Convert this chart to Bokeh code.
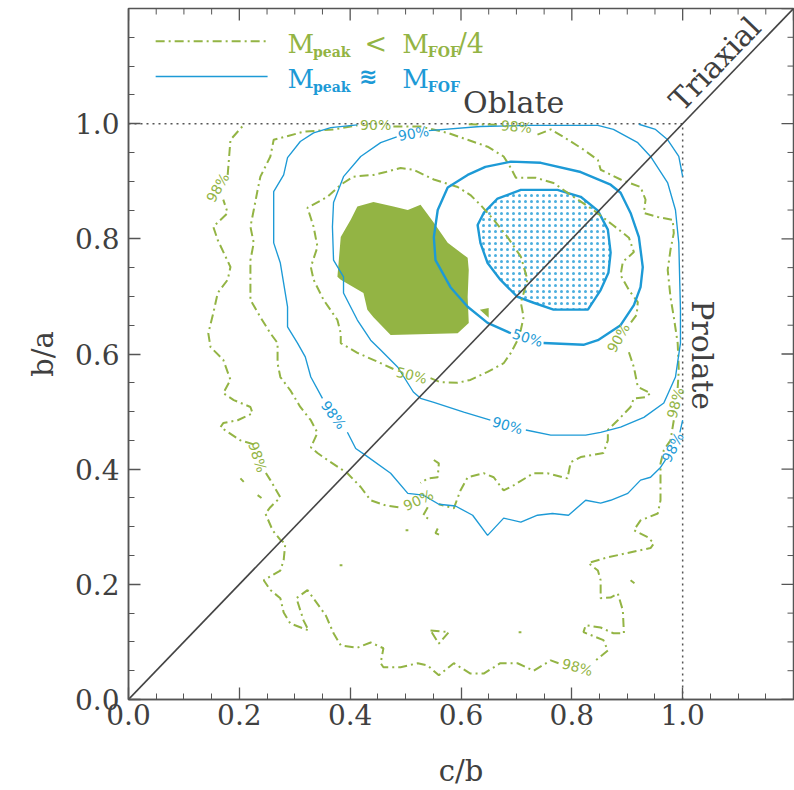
from bokeh.plotting import figure
from bokeh.models import FixedTicker, Label, ColumnDataSource
from bokeh.embed import file_html
from bokeh.resources import INLINE
from bokeh.core.properties import value

nan = float("nan")

GREEN = "#93b444"
BLUE = "#1d9ad6"
INK = "#404040"
AXC = "#555555"

# ---------------- data (c/b, b/a) ----------------
# reference lines
oblate_x = [0.0, 1.0]
oblate_y = [1.0, 1.0]
prolate_x = [1.0, 1.0]
prolate_y = [0.0, 1.0]
triax_x = [0.0, 1.2]
triax_y = [0.0, 1.2]

# blue: M_peak ~ M_FOF
b_inner_x = [0.630, 0.641, 0.666, 0.708, 0.774, 0.816, 0.847, 0.865, 0.870, 0.866, 0.852, 0.829, 0.767, 0.731, 0.702, 0.671, 0.648, 0.635]
b_inner_y = [0.824, 0.845, 0.870, 0.885, 0.885, 0.873, 0.849, 0.816, 0.776, 0.741, 0.711, 0.677, 0.677, 0.689, 0.699, 0.729, 0.758, 0.793]

b50_x = [0.749, 0.821, 0.847, 0.888, 0.912, 0.924, 0.928, 0.921, 0.906, 0.888, 0.870, 0.816, 0.744, 0.690, 0.644, 0.612, 0.576, 0.558, 0.551, 0.554, 0.581, 0.612, 0.648, 0.690]
b50_y = [0.619, 0.616, 0.624, 0.650, 0.685, 0.716, 0.751, 0.803, 0.845, 0.880, 0.894, 0.916, 0.932, 0.934, 0.925, 0.911, 0.889, 0.850, 0.803, 0.763, 0.716, 0.682, 0.654, 0.636]

b90_x = [0.542, 0.635, 0.726, 0.847, 0.875, 0.919, 0.942, 0.973, 0.987, 0.993, 0.996, 0.996, 0.987, 0.966, 0.930, 0.888, 0.852, 0.825, 0.762, 0.717, nan,
         0.653, 0.605, 0.551, 0.527, 0.514, 0.486, 0.455, 0.437, 0.413, 0.388, 0.388, 0.370, 0.368, 0.370, 0.388, 0.419, 0.455, 0.484]
b90_y = [0.988, 0.995, 0.997, 0.997, 0.990, 0.967, 0.943, 0.897, 0.850, 0.793, 0.677, 0.619, 0.560, 0.515, 0.490, 0.473, 0.464, 0.459, 0.459, 0.468, nan,
         0.485, 0.499, 0.516, 0.523, 0.534, 0.577, 0.607, 0.624, 0.659, 0.706, 0.734, 0.763, 0.821, 0.863, 0.908, 0.943, 0.967, 0.977]

b98_x = [0.350, 0.329, 0.319, 0.305, 0.287, 0.287, 0.274, 0.262, 0.262, 0.280, 0.287, 0.310, 0.334, 0.365, 0.413, nan,
         0.921, 0.951, 0.973, 0.993, 1.000, nan,
         1.000, 0.995, nan,
         0.969, 0.960, 0.942, 0.924, 0.901, 0.870, 0.852, 0.825, 0.794, 0.765, 0.738, 0.708, 0.677, 0.648, 0.621, 0.590, 0.560, 0.532, 0.504, 0.473, 0.428, 0.410, 0.395]
b98_y = [0.523, 0.560, 0.595, 0.619, 0.647, 0.682, 0.758, 0.793, 0.882, 0.911, 0.941, 0.969, 0.984, 0.993, 0.998, nan,
         0.999, 0.990, 0.972, 0.943, 0.908, nan,
         0.485, 0.464, nan,
         0.416, 0.403, 0.386, 0.381, 0.358, 0.346, 0.341, 0.346, 0.320, 0.323, 0.320, 0.308, 0.315, 0.285, 0.320, 0.336, 0.339, 0.355, 0.358, 0.393, 0.424, 0.436, 0.464]

b_lbl_x = [0.514, 0.684, 0.720, 0.370, 0.982]
b_lbl_y = [0.983, 0.476, 0.628, 0.494, 0.438]
b_lbl_t = ["90%", "90%", "50%", "98%", "98%"]
b_lbl_a = [10, -16, -17, -53, 63]

# green: M_peak < M_FOF/4
g_core_x = [0.377, 0.383, 0.401, 0.413, 0.442, 0.478, 0.504, 0.527, 0.551, 0.576, 0.612, 0.614, 0.612, 0.614, 0.594, 0.473, 0.442, 0.431, 0.424, 0.383]
g_core_y = [0.734, 0.803, 0.833, 0.856, 0.864, 0.856, 0.850, 0.859, 0.828, 0.793, 0.767, 0.746, 0.699, 0.654, 0.636, 0.633, 0.664, 0.677, 0.706, 0.729]
g_speck_x = [0.634, 0.650, 0.650]
g_speck_y = [0.677, 0.680, 0.663]

g50_x = [0.545, 0.563, 0.594, 0.617, 0.648, 0.677, 0.690, 0.702, 0.708, 0.713, 0.708, 0.720, 0.708, 0.684, 0.659, 0.635, 0.617, 0.594, 0.551, 0.514,
         0.491, 0.464, 0.442, 0.406, 0.383, 0.359, 0.323, 0.334, 0.341, 0.329, 0.334, 0.352, 0.377, 0.383, 0.383, 0.413, 0.446, 0.478]
g50_y = [0.558, 0.551, 0.550, 0.555, 0.569, 0.584, 0.602, 0.624, 0.642, 0.664, 0.689, 0.729, 0.769, 0.803, 0.833, 0.859, 0.876, 0.890, 0.903, 0.920,
         0.923, 0.916, 0.911, 0.908, 0.894, 0.873, 0.854, 0.821, 0.786, 0.751, 0.729, 0.694, 0.659, 0.636, 0.619, 0.602, 0.588, 0.574]

g90_x = [0.478, 0.527, 0.576, 0.612, 0.648, 0.677, 0.690, 0.699, 0.735, 0.767, 0.803, 0.839, 0.874, 0.903, 0.912, 0.892, 0.888, 0.903, 0.919, 0.917, 0.903, nan,
         0.903, 0.912, 0.919, 0.942, 0.933, 0.912, 0.906, 0.883, 0.865, 0.865, 0.857, 0.816, 0.798, 0.792, 0.756, 0.731, 0.695, 0.677, 0.659, 0.641,
         0.612, 0.599, 0.587, 0.560, nan,
         0.487, 0.464, 0.437, 0.419, 0.395, 0.359, 0.341, 0.329, 0.341, 0.329, 0.310, 0.292, 0.274, 0.269, 0.269, 0.256, 0.238, 0.220, 0.220, 0.220,
         0.226, 0.220, 0.226, 0.233, 0.238, 0.256, 0.262, 0.316, 0.370, 0.413]
g90_y = [0.995, 0.995, 0.984, 0.972, 0.960, 0.943, 0.923, 0.906, 0.906, 0.897, 0.873, 0.850, 0.824, 0.802, 0.777, 0.760, 0.737, 0.711, 0.690, 0.668, 0.650, nan,
         0.603, 0.577, 0.543, 0.532, 0.525, 0.523, 0.508, 0.485, 0.468, 0.450, 0.428, 0.421, 0.412, 0.384, 0.393, 0.393, 0.372, 0.363, 0.386, 0.393,
         0.386, 0.363, 0.332, 0.339, nan,
         0.334, 0.337, 0.346, 0.369, 0.393, 0.416, 0.428, 0.438, 0.463, 0.485, 0.508, 0.537, 0.560, 0.584, 0.619, 0.636, 0.664, 0.694, 0.734, 0.763,
         0.793, 0.821, 0.850, 0.885, 0.908, 0.943, 0.972, 0.986, 0.990, 0.997]

g98_x = [0.738, 0.762, 0.785, 0.821, 0.847, 0.852, 0.888, 0.924, 0.933, 0.930, 0.955, 0.982, 0.984, 0.978, 0.973, 0.978, 0.984, 0.991, 0.993, 0.991, nan,
         0.984, 0.978, 0.966, 0.960, 0.960, 0.955, 0.924, 0.912, 0.937, 0.948, 0.942, 0.865, 0.830, 0.847, 0.852, 0.852, 0.870, 0.883, 0.892, 0.894,
         0.875, 0.852, 0.825, 0.821, 0.857, 0.865, 0.843, nan,
         0.776, 0.762, 0.731, 0.702, 0.671, 0.641, 0.617, 0.587, 0.560, 0.540, 0.522, 0.491, 0.460, 0.455, 0.460, 0.437, 0.413, 0.383, 0.370, 0.356,
         0.323, 0.303, 0.316, 0.325, 0.292, 0.280, 0.274, 0.256, 0.244, 0.274, 0.280, 0.283, 0.274, 0.260, 0.247, 0.256, 0.274, 0.256, 0.245, nan,
         0.226, 0.202, 0.166, 0.171, 0.197, 0.224, 0.220, 0.190, 0.171, 0.184, 0.171, 0.148, 0.144, 0.153, 0.161, 0.179, 0.184, 0.161, 0.153, 0.179,
         0.171, nan,
         0.179, 0.184, 0.208, nan,
         0.614, 0.666]
g98_y = [0.981, 0.990, 0.977, 0.955, 0.937, 0.920, 0.903, 0.890, 0.868, 0.845, 0.838, 0.833, 0.810, 0.781, 0.746, 0.699, 0.664, 0.619, 0.572, 0.541, nan,
         0.485, 0.450, 0.433, 0.410, 0.346, 0.323, 0.311, 0.294, 0.282, 0.271, 0.263, 0.247, 0.237, 0.224, 0.207, 0.176, 0.177, 0.184, 0.155, 0.115,
         0.115, 0.125, 0.129, 0.117, 0.103, 0.085, 0.068, nan,
         0.063, 0.068, 0.050, 0.063, 0.063, 0.045, 0.045, 0.063, 0.042, 0.059, 0.063, 0.056, 0.056, 0.063, 0.089, 0.099, 0.090, 0.094, 0.115, 0.146,
         0.190, 0.176, 0.137, 0.120, 0.132, 0.151, 0.176, 0.190, 0.207, 0.224, 0.242, 0.271, 0.277, 0.294, 0.323, 0.334, 0.351, 0.381, 0.398, nan,
         0.443, 0.450, 0.473, 0.480, 0.485, 0.497, 0.508, 0.520, 0.532, 0.555, 0.590, 0.612, 0.636, 0.671, 0.706, 0.729, 0.751, 0.798, 0.821, 0.845,
         0.868, nan,
         0.911, 0.972, 0.998, nan,
         0.999, 0.998]

g_bits_x = [0.551, 0.560, 0.558, 0.540, 0.527, nan, 0.540, 0.532, 0.545, nan, 0.558, 0.554, 0.563, nan, 0.545, 0.578, 0.560, 0.545, nan,
            0.906, 0.913, nan, 0.202, 0.208, nan, 0.233, 0.240, nan, 0.500, 0.505, nan, 0.381, 0.386, nan, 0.704, 0.709]
g_bits_y = [0.416, 0.410, 0.386, 0.384, 0.376, nan, 0.334, 0.320, 0.311, nan, 0.297, 0.289, 0.285, nan, 0.120, 0.117, 0.097, 0.120, nan,
            0.207, 0.202, nan, 0.384, 0.378, nan, 0.355, 0.350, nan, 0.294, 0.294, nan, 0.233, 0.233, nan, 0.117, 0.117]

g_lbl_x = [0.446, 0.884, 0.523, 0.511, 0.161, 0.233, 0.987, 0.810, 0.700]
g_lbl_y = [0.998, 0.628, 0.346, 0.563, 0.889, 0.421, 0.515, 0.056, 0.995]
g_lbl_t = ["90%", "90%", "90%", "50%", "98%", "98%", "98%", "98%", "98%"]
g_lbl_a = [0, 60, 25, -14, 60, -72, 75, -15, -5]

# axis ticks
label_ticks = [0.0, 0.2, 0.4, 0.6, 0.8, 1.0]
tick_labels = ["0.0", "0.2", "0.4", "0.6", "0.8", "1.0"]
major_ticks = [0.0, 0.2, 0.4, 0.6, 0.8, 1.0, 1.2]
minor_ticks = [0.05, 0.10, 0.15, 0.25, 0.30, 0.35, 0.45, 0.50, 0.55, 0.65, 0.70, 0.75,
               0.85, 0.90, 0.95, 1.05, 1.10, 1.15]
AX_MAX = 1.2

# legend sample lines
leg_x = [0.049, 0.251]
leg_green_y = [1.143, 1.143]
leg_blue_y = [1.082, 1.082]

# ---------------- figure ----------------
p = figure(width=794, height=790, x_range=(0, AX_MAX), y_range=(0, AX_MAX),
           output_backend="svg", toolbar_location=None,
           min_border_left=128, min_border_right=1, min_border_top=8, min_border_bottom=91,
           x_axis_label="c/b", y_axis_label="b/a")
p.grid.visible = False
p.outline_line_color = AXC
p.outline_line_width = 1.5
p.background_fill_color = "white"
p.border_fill_color = "white"

overrides = {t: l for t, l in zip(label_ticks, tick_labels)}
for ax in (p.xaxis[0], p.yaxis[0]):
    ax.ticker = FixedTicker(ticks=label_ticks, minor_ticks=minor_ticks)
    ax.major_label_overrides = overrides
    ax.major_tick_in = 12
    ax.major_tick_out = 0
    ax.minor_tick_in = 6
    ax.minor_tick_out = 0
    ax.axis_line_color = AXC
    ax.axis_line_width = 1.5
    ax.major_tick_line_color = AXC
    ax.minor_tick_line_color = AXC
    ax.major_tick_line_width = 1.3
    ax.minor_tick_line_width = 1.0
    ax.major_label_text_font = "DejaVu Serif"
    ax.major_label_text_font_size = "28px"
    ax.major_label_text_color = INK
    ax.axis_label_text_font = "DejaVu Serif"
    ax.axis_label_text_font_size = "29px"
    ax.axis_label_text_font_style = "normal"
    ax.axis_label_text_color = INK
p.yaxis[0].major_label_standoff = 9
p.yaxis[0].axis_label_standoff = 12
p.xaxis[0].major_label_standoff = 4
p.xaxis[0].axis_label_standoff = 26

# mirrored ticks on the top and right edges
n_maj, n_min = len(major_ticks), len(minor_ticks)
p.ray(x=major_ticks, y=[AX_MAX] * n_maj, length=12, length_units="screen", angle=-90, angle_units="deg",
      line_color=AXC, line_width=1.3)
p.ray(x=minor_ticks, y=[AX_MAX] * n_min, length=6, length_units="screen", angle=-90, angle_units="deg",
      line_color=AXC, line_width=1.0)
p.ray(x=[AX_MAX] * n_maj, y=major_ticks, length=12, length_units="screen", angle=180, angle_units="deg",
      line_color=AXC, line_width=1.3)
p.ray(x=[AX_MAX] * n_min, y=minor_ticks, length=6, length_units="screen", angle=180, angle_units="deg",
      line_color=AXC, line_width=1.0)

# filled cores
p.patch(g_core_x, g_core_y, fill_color=GREEN, line_color=None)
p.patch(g_speck_x, g_speck_y, fill_color=GREEN, line_color=None)
p.patch(b_inner_x, b_inner_y, fill_color=None, line_color=BLUE, line_width=2.4,
        hatch_pattern=".", hatch_color=BLUE, hatch_scale=6, hatch_weight=1.0, hatch_alpha=0.8)

# guide lines
p.line(oblate_x, oblate_y, line_color="#555555", line_width=1.5, line_dash="2 4")
p.line(prolate_x, prolate_y, line_color="#555555", line_width=1.5, line_dash="2 4")

# green contours
gdash = "9 4 2 4"
for xs, ys in ((g50_x, g50_y), (g90_x, g90_y), (g98_x, g98_y), (g_bits_x, g_bits_y)):
    p.line(xs, ys, line_color=GREEN, line_width=2.0, line_dash=gdash)

# blue contours
p.line(b50_x, b50_y, line_color=BLUE, line_width=2.4)
p.line(b90_x, b90_y, line_color=BLUE, line_width=1.35)
p.line(b98_x, b98_y, line_color=BLUE, line_width=1.35)

# triaxial diagonal
p.line(triax_x, triax_y, line_color="#444444", line_width=1.6)

# contour labels
src_g = ColumnDataSource(dict(x=g_lbl_x, y=g_lbl_y, t=g_lbl_t, a=g_lbl_a))
src_b = ColumnDataSource(dict(x=b_lbl_x, y=b_lbl_y, t=b_lbl_t, a=b_lbl_a))
for src, col in ((src_g, GREEN), (src_b, BLUE)):
    p.text(x="x", y="y", text="t", angle="a", angle_units="deg", source=src,
           text_color=col, text_font=value("DejaVu Sans"), text_font_size="14px",
           text_align="center", text_baseline="middle")

# region names
def note(x, y, t, angle=0):
    p.add_layout(Label(x=x, y=y, text=t, text_font="DejaVu Serif", text_font_size="30px",
                       text_color=INK, text_align="center", text_baseline="middle",
                       angle=angle, angle_units="deg"))

note(0.695, 1.037, "Oblate")
note(1.058, 1.104, "Triaxial", 46)
note(1.036, 0.598, "Prolate", -90)

# legend
p.line(leg_x, leg_green_y, line_color=GREEN, line_width=2.0, line_dash=gdash)
p.line(leg_x, leg_blue_y, line_color=BLUE, line_width=1.6)

def lab(x, y, t, col, size, font="DejaVu Serif", style="normal"):
    p.add_layout(Label(x=x, y=y, text=t, text_color=col, text_font=font, text_font_size=size,
                       text_font_style=style, text_align="left", text_baseline="middle"))

lab(0.287, 1.139, "M", GREEN, "26px")
lab(0.333, 1.125, "peak", GREEN, "14px", style="bold")
lab(0.426, 1.139, "<", GREEN, "27px")
lab(0.494, 1.139, "M", GREEN, "26px")
lab(0.540, 1.125, "FOF", GREEN, "14px", style="bold")
lab(0.594, 1.139, "/4", GREEN, "27px")

lab(0.287, 1.078, "M", BLUE, "26px")
lab(0.333, 1.064, "peak", BLUE, "14px", style="bold")
lab(0.416, 1.082, "\u224b", BLUE, "22px", font="DejaVu Sans", style="bold")
lab(0.494, 1.078, "M", BLUE, "26px")
lab(0.540, 1.064, "FOF", BLUE, "14px", style="bold")

open("out.html", "w").write(file_html(p, INLINE))
